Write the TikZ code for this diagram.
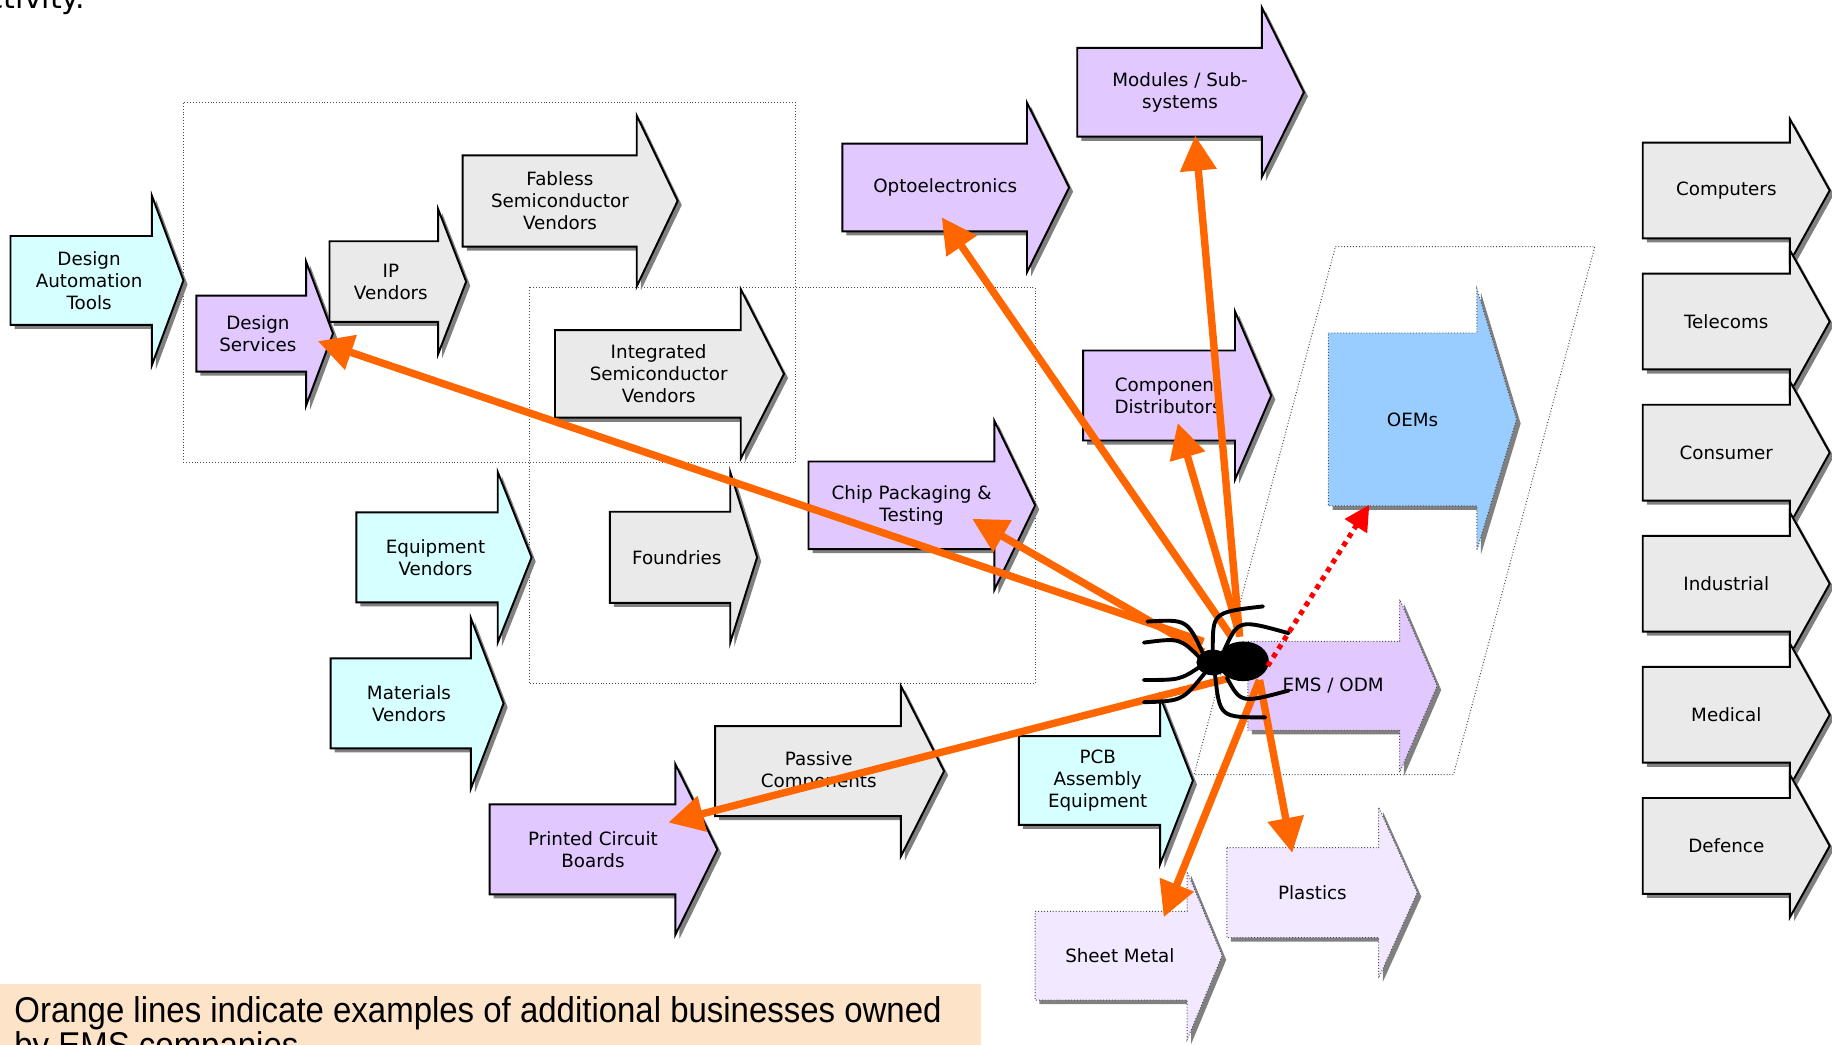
\documentclass[tikz,border=0pt]{standalone}
\usepackage{fontspec}
\setmainfont{DejaVu Sans}
\newfontfamily\notefont[FakeStretch=0.92]{Liberation Sans}
\usepackage{tikz}
\usetikzlibrary{calc,arrows.meta,positioning}

\definecolor{cyanfill}{RGB}{214,255,255}
\definecolor{lilacfill}{RGB}{225,200,255}
\definecolor{greyfill}{RGB}{234,234,234}
\definecolor{palefill}{RGB}{242,232,255}
\definecolor{oemfill}{RGB}{153,204,255}
\definecolor{shadowgrey}{RGB}{128,128,128}
\definecolor{ownedorange}{RGB}{255,102,0}
\definecolor{notebg}{RGB}{253,227,200}

% block arrow: [style]{name}{left}{head x}{tip x}{mid y}{body half}{head half}{text}
\newcommand{\stage}[9][greystage]{%
  \fill[shadowgrey,shift={(3.5,3.5)}] (#3,#6-#7) -- (#4,#6-#7) -- (#4,#6-#8) -- (#5,#6)
    -- (#4,#6+#8) -- (#4,#6+#7) -- (#3,#6+#7) -- cycle;
  \path[#1] (#3,#6-#7) -- (#4,#6-#7) -- (#4,#6-#8) -- (#5,#6)
    -- (#4,#6+#8) -- (#4,#6+#7) -- (#3,#6+#7) -- cycle;
  \node[stagetext] (#2) at ({(2*#3+#4+#5)/4},#6) {#9};
}

\begin{document}
\begin{tikzpicture}
[x=0.6pt,y=-0.6pt,
 stagetext/.style={align=center,inner sep=0pt,font=\fontsize{9.4}{11.4}\selectfont},
 greystage/.style={fill=greyfill,draw=black,line width=1pt},
 cyanstage/.style={fill=cyanfill,draw=black,line width=1pt},
 lilacstage/.style={fill=lilacfill,draw=black,line width=1pt},
 emsstage/.style={fill=lilacfill,draw=black!70,densely dotted,line width=0.5pt},
 palestage/.style={fill=palefill,draw=black!70,densely dotted,line width=0.5pt},
 oemstage/.style={fill=oemfill,draw=black!70,densely dotted,line width=0.5pt},
 groupbox/.style={draw=black!70,densely dotted,line width=0.5pt},
 owned/.style={draw=ownedorange,line width=3.8pt,-{Triangle[length=18pt,width=18pt]}},
 oemlink/.style={draw=red,line width=2.6pt,dash pattern=on 2.6pt off 2.6pt,
   -{Triangle[length=13pt,width=13pt]}},
 spiderleg/.style={draw=black,line width=2pt,line cap=round}]
\useasboundingbox (0,0) rectangle (1568,894);

\node[anchor=base east,inner sep=0pt,font=\fontsize{15.4}{18}\selectfont] (lead) at (73,7) {activity.};

% groups
\draw[groupbox] (157,88) rectangle (681,396);
\draw[groupbox] (453,246) rectangle (886,585);
\draw[groupbox] (1143,211) -- (1365,211) -- (1244,663) -- (1022,663) -- cycle;

% supply chain
\stage[cyanstage]{dat}{9}{130}{157}{240}{38}{72.5}{Design\\Automation\\Tools}
\stage[lilacstage]{dsv}{168}{262}{285}{285.5}{32.5}{61.5}{Design\\Services}
\stage{ipv}{282}{375}{399}{241}{34.5}{62}{IP\\Vendors}
\stage{fab}{396}{545}{580}{172}{39}{73}{Fabless\\Semiconductor\\Vendors}
\stage{isv}{475}{634}{671}{320}{37.5}{72.5}{Integrated\\Semiconductor\\Vendors}
\stage[cyanstage]{eqv}{305}{426}{455}{477}{38.5}{73}{Equipment\\Vendors}
\stage{fdy}{522}{625}{648}{477}{39}{73}{Foundries}
\stage[cyanstage]{mat}{283}{403}{431}{602}{38.5}{73}{Materials\\Vendors}
\stage[lilacstage]{cpt}{692}{851}{886}{432.5}{37.5}{72.5}{Chip Packaging \&\\Testing}
\stage[lilacstage]{opt}{721}{879}{915}{160.5}{37.5}{72.5}{Optoelectronics}
\stage[lilacstage]{mod}{922}{1080}{1116}{79}{38}{72.5}{Modules / Sub-\\systems}
\stage[lilacstage]{cdi}{927}{1057}{1088}{338.5}{38.5}{72}{Component\\Distributors}
\stage[cyanstage]{pae}{872}{993}{1021}{668}{38}{71.5}{PCB\\Assembly\\Equipment}
\stage{pas}{612}{771}{808}{660}{38.5}{73}{Passive\\Components}
\stage[lilacstage]{pcb}{419}{578}{614}{727}{38.5}{73}{Printed Circuit\\Boards}
\stage[palestage]{shm}{886}{1016}{1046}{818}{38}{72}{Sheet Metal}
\stage[palestage]{pla}{1050}{1180}{1213}{764}{38.5}{73}{Plastics}
\stage[emsstage]{ems}{1068}{1198}{1230}{587}{38}{74}{EMS / ODM}
\stage[oemstage]{oem}{1137}{1264}{1298}{359}{74}{112}{OEMs}

% markets
\foreach \market [count=\i from 0] in {Computers,Telecoms,Consumer,Industrial,Medical,Defence}
  \stage{mk\i}{1406}{1532}{1566}{163+112.2*\i}{41}{61}{\market};

% ends of the ownership lines
\coordinate (dsvIn) at (272,292);
\coordinate (cptIn) at (832,444);
\coordinate (optIn) at (806,186);
\coordinate (modIn) at (1023,116);
\coordinate (cdiIn) at (1008,362);
\coordinate (pcbIn) at (572,704);
\coordinate (shmIn) at (996,785);
\coordinate (plaIn) at (1106,730);
\coordinate (oemIn) at (1172,432);
\coordinate (spW) at (1030,549);
\coordinate (spWS) at (1030,558);
\coordinate (spNW) at (1054,545);
\coordinate (spN) at (1061,545);
\coordinate (spNE) at (1060,540);
\coordinate (spSW) at (1050,581);
\coordinate (spS) at (1078,582);
\coordinate (spE) at (1085,570);

\path
\foreach \startNode/\endNode in {spW/dsvIn,spWS/cptIn,spNW/optIn,spN/modIn,spNE/cdiIn,
  spSW/pcbIn,spS/shmIn,spS/plaIn}
{
	(\startNode) edge[owned] (\endNode)
};

% spider
\fill (1064,566) ellipse [x radius=22,y radius=17];
\fill (1038,567) ellipse [x radius=14,y radius=11];
\draw[spiderleg] (1030,560) .. controls (1016,530) .. (982,532);
\draw[spiderleg] (1028,564) .. controls (1010,546) .. (979,550);
\draw[spiderleg] (1028,570) .. controls (1010,582) .. (979,582);
\draw[spiderleg] (1032,575) .. controls (1012,600) .. (979,601);
\draw[spiderleg] (1038,556) .. controls (1038,524) .. (1081,519);
\draw[spiderleg] (1048,556) .. controls (1060,530) .. (1103,542);
\draw[spiderleg] (1050,580) .. controls (1062,602) .. (1103,591);
\draw[spiderleg] (1040,578) .. controls (1044,614) .. (1083,614);

\draw[oemlink] (spE) -- (oemIn);

% note
\fill[notebg] (0,842) rectangle (840,900);
\node[anchor=base west,align=left,inner sep=0pt,font=\notefont\fontsize{18.4}{16.8}\selectfont]
  (note) at (12,905) {Orange lines indicate examples of additional businesses owned\\by EMS companies};
\end{tikzpicture}
\end{document}
